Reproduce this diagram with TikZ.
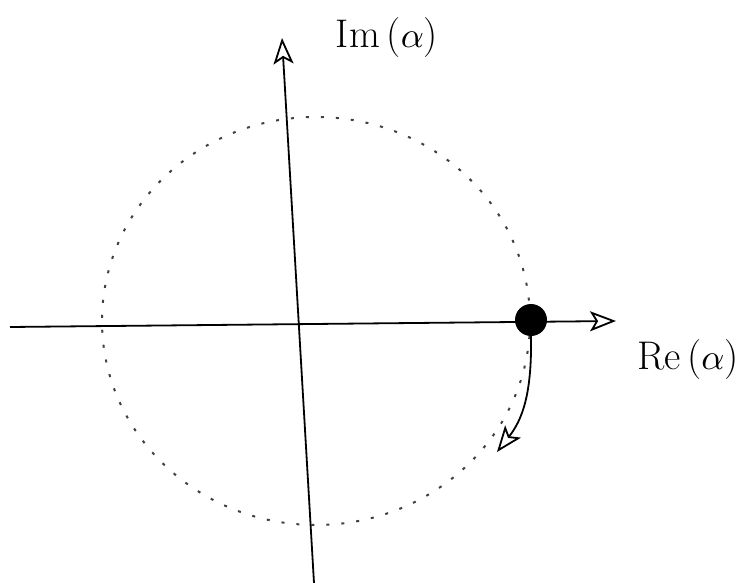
\documentclass[tikz,border=0pt]{standalone}
\usetikzlibrary{arrows.meta}
\newcommand{\bigalpha}{\scalebox{3.6}{\normalsize$\alpha$}}
\begin{document}
\begin{tikzpicture}[x=1pt,y=-1pt,
  axis/.style={line width=1.8pt,-{Stealth[open,length=26pt,width=20pt,inset=6pt,line width=1.8pt]}},
  dotring/.style={line width=2pt,black!75,dash pattern=on 3pt off 12pt},
  lbl/.style={font=\fontsize{40}{48}\selectfont,inner sep=0pt}]
\useasboundingbox (0,0) rectangle (753,583);
\coordinate (xl) at (10,327);
\coordinate (xr) at (616,321);
\coordinate (yb) at (314,583);
\coordinate (yt) at (282,38);
\coordinate (ctr) at (316,321);
\draw[dotring] (ctr) ellipse [x radius=214, y radius=204];
\draw[axis] (xl) -- (xr);
\draw[axis] (yb) -- (yt);
\node[circle,fill=black,minimum size=32pt,inner sep=0pt] (pt) at (531,320) {};
\coordinate (tip) at (497,452);
\draw[axis] (pt.south) .. controls (532,395) and (522,420) .. (tip);
\node[lbl] (im) at (387,38) {Im\,(\bigalpha)};
\node[lbl] (re) at (688,360) {Re\,(\bigalpha)};
\end{tikzpicture}
\end{document}
